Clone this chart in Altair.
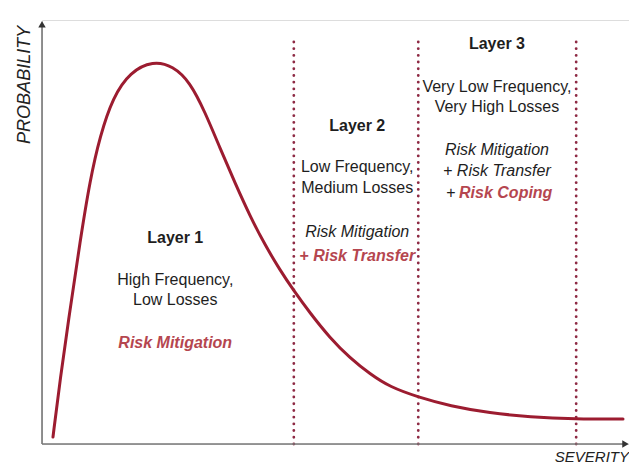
import altair as alt
import pandas as pd

# Curve (severity, probability) in arbitrary units 0-100
severity = [1.87, 3.07, 4.77, 6.47, 8.18, 9.88, 12.10, 14.99, 18.91, 22.32, 25.21, 27.77,
            30.32, 32.88, 35.43, 37.99, 40.54, 42.93, 45.66, 49.06, 52.47, 55.88, 59.28,
            64.05, 69.51, 76.32, 83.13, 90.80, 98.98]
probability = [1.65, 15.09, 31.60, 47.64, 62.26, 72.64, 81.84, 87.74, 90.40, 89.15, 85.38,
               78.30, 69.81, 61.56, 53.77, 46.93, 41.04, 36.08, 30.90, 25.00, 20.28, 16.51,
               13.44, 11.08, 8.96, 7.31, 6.37, 5.90, 5.90]

# Layer boundaries (severity)
boundaries = [42.9, 64.1, 91.0]
boundary_top = 95.3

# Annotations
bold_texts = ["Layer 1", "Layer 2", "Layer 3"]
bold_x = [22.7, 53.7, 77.5]
bold_y = [48.6, 75.0, 94.3]

normal_texts = ["High Frequency,", "Low Losses", "Low Frequency,", "Medium Losses",
                "Very Low Frequency,", "Very High Losses"]
normal_x = [22.7, 22.7, 53.7, 53.7, 77.5, 77.5]
normal_y = [38.7, 34.0, 65.3, 60.4, 84.2, 79.5]

italic_texts = ["Risk Mitigation", "Risk Mitigation", "+ Risk Transfer", "+"]
italic_x = [53.7, 77.5, 77.5, 69.6]
italic_y = [50.0, 69.3, 64.4, 59.2]

red_texts = ["Risk Mitigation", "+ Risk Transfer", "Risk Coping"]
red_x = [22.7, 53.7, 79.0]
red_y = [23.8, 44.3, 59.2]

CURVE = "#9c1c30"
DOT = "#8e2a44"
RED = "#b5464f"
AXIS = "#777777"
TXT = "#1e1e1e"
FONT = "Liberation Sans"

xs = alt.Scale(domain=[0, 100], nice=False, zero=False)
ys = alt.Scale(domain=[0, 100], nice=False, zero=False)

def X(f):
    return alt.X(f, type="quantitative", scale=xs, axis=None)

def Y(f):
    return alt.Y(f, type="quantitative", scale=ys, axis=None)

curve_df = pd.DataFrame({"s": severity, "p": probability})
curve = alt.Chart(curve_df).mark_line(
    color=CURVE, strokeWidth=3, interpolate="basis", strokeCap="round"
).encode(x=X("s"), y=Y("p"), order="s:Q")

bnd_df = pd.DataFrame({"s": boundaries, "top": [boundary_top] * 3, "bot": [0] * 3})
rules = alt.Chart(bnd_df).mark_rule(
    color=DOT, strokeWidth=2.8, strokeDash=[0.1, 6.6], strokeCap="round"
).encode(x=X("s"), y=Y("bot"), y2="top:Q")

axes_df = pd.DataFrame({"x1": [0, 0], "y1": [0, 0], "x2": [0, 99.6], "y2": [99.2, 0]})
axis_y = alt.Chart(axes_df.iloc[[0]]).mark_rule(color=AXIS, strokeWidth=1.6).encode(
    x=X("x1"), y=Y("y1"), y2="y2:Q")
axis_x = alt.Chart(axes_df.iloc[[1]]).mark_rule(color=AXIS, strokeWidth=1.6).encode(
    x=X("x1"), x2="x2:Q", y=Y("y1"))
arrow_up = alt.Chart(pd.DataFrame({"x": [0], "y": [99.0]})).mark_point(
    shape="triangle-up", filled=True, color="#333", size=55, opacity=1).encode(x=X("x"), y=Y("y"))
arrow_right = alt.Chart(pd.DataFrame({"x": [99.4], "y": [0]})).mark_point(
    shape="triangle-right", filled=True, color="#333", size=55, opacity=1).encode(x=X("x"), y=Y("y"))

def text_layer(texts, xv, yv, **kw):
    df = pd.DataFrame({"t": texts, "x": xv, "y": yv})
    return alt.Chart(df).mark_text(font=FONT, fontSize=16, baseline="middle", **kw).encode(
        x=X("x"), y=Y("y"), text="t:N")

t_bold = text_layer(bold_texts, bold_x, bold_y, fontWeight="bold", color=TXT)
t_norm = text_layer(normal_texts, normal_x, normal_y, color=TXT)
t_ital = text_layer(italic_texts, italic_x, italic_y, fontStyle="italic", color=TXT)
t_red = text_layer(red_texts, red_x, red_y, fontStyle="italic", fontWeight="bold", color=RED)

title_y = alt.Chart(pd.DataFrame({"t": ["PROBABILITY"], "x": [-2.9], "y": [84.7]})).mark_text(
    font=FONT, fontSize=18, fontStyle="italic", angle=270, color="#222", baseline="middle"
).encode(x=X("x"), y=Y("y"), text="t:N")
title_x = alt.Chart(pd.DataFrame({"t": ["SEVERITY"], "x": [100.0], "y": [-4.2]})).mark_text(
    font=FONT, fontSize=15, fontStyle="italic", color="#222", baseline="alphabetic", align="right"
).encode(x=X("x"), y=Y("y"), text="t:N")

chart = alt.layer(
    rules, axis_y, axis_x, arrow_up, arrow_right, curve,
    t_bold, t_norm, t_ital, t_red, title_y, title_x
).properties(
    width=587, height=424,
    autosize=alt.AutoSizeParams(type="none"),
    padding={"left": 34, "top": 12, "right": 0, "bottom": 22},
).configure_view(stroke=None).configure(background="white")

chart.save("out.html", embed_options={"renderer": "svg", "actions": False})
